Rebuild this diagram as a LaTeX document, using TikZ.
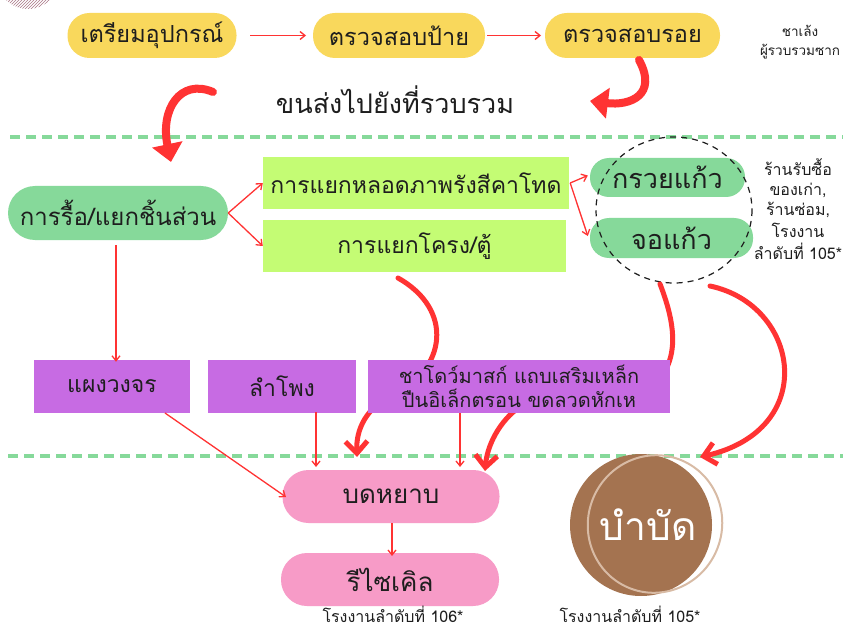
\documentclass[tikz,border=0pt]{standalone}
\usepackage{fontspec}
\newfontfamily\thai[Script=Thai]{Loma}
\usetikzlibrary{arrows.meta,patterns}
\definecolor{cyellow}{RGB}{249,216,92}
\definecolor{cgreen}{RGB}{134,217,154}
\definecolor{clime}{RGB}{196,252,116}
\definecolor{cpurple}{RGB}{199,107,227}
\definecolor{cpink}{RGB}{247,155,199}
\definecolor{cbrown}{RGB}{164,115,80}
\definecolor{ctan}{RGB}{216,187,165}
\definecolor{cred}{RGB}{255,51,51}
\definecolor{cmauve}{RGB}{170,120,135}
\definecolor{ctext}{RGB}{30,30,30}
\tikzset{
  tf/.style={font=\thai\fontsize{#1}{#1}\selectfont},
  pill/.style={inner sep=0pt, text=ctext, rounded corners=#1, align=center},
  ybox/.style={pill=22pt, fill=cyellow, minimum height=45pt, tf=23.5},
  gbox/.style={pill=27pt, fill=cgreen, minimum width=220pt, minimum height=54pt, tf=24},
  gsmall/.style={pill=19pt, fill=cgreen, minimum height=39pt, tf=27},
  lbox/.style={inner sep=0pt, fill=clime, text=ctext, minimum height=52pt, tf=23},
  pbox/.style={inner sep=0pt, fill=cpurple, text=ctext, minimum height=53pt, tf=23, align=center},
  kbox/.style={pill=26pt, fill=cpink, minimum width=217pt, minimum height=53pt, tf=26},
  thin/.style={draw=cred, line width=1.3pt, -{Straight Barb[length=5pt,width=8pt]}},
  thick/.style={draw=cred, line width=5pt, line cap=round, -{Straight Barb[length=12pt,width=22pt,line width=5pt]}},
  brush/.style={draw=cred, line width=8pt, line cap=round, -{Triangle[length=18pt,width=30pt]}},
  gdash/.style={draw=cgreen, line width=4pt, dash pattern=on 10pt off 6pt},
  note/.style={text=ctext, tf=13.5, align=center, inner sep=0pt},
}
\begin{document}
\begin{tikzpicture}[x=1pt,y=-1pt]
\useasboundingbox[fill=white] (0,0) rectangle (843,631);
% decoration top-left
\begin{scope}
\clip (0,0) rectangle (60,9);
\fill[pattern=north east lines, pattern color=cmauve] (28,-22) circle (31);
\end{scope}
% dashed separators
\coordinate (d1a) at (10,137); \coordinate (d1b) at (843,137);
\coordinate (d2a) at (8,456); \coordinate (d2b) at (843,456);
\draw[gdash] (d1a) -- (d1b);
\draw[gdash] (d2a) -- (d2b);

% top row
\node[ybox, minimum width=169pt] (a1) at (152,35.5) {เตรียมอุปกรณ์};
\node[ybox, minimum width=172pt] (a2) at (399,35.5) {ตรวจสอบป้าย};
\node[ybox, minimum width=175pt] (a3) at (632.5,35.5) {ตรวจสอบรอย};
\coordinate (a1r) at (250,35.5); \coordinate (a2l) at (306,35.5);
\coordinate (a2r) at (487,35.5); \coordinate (a3l) at (541,35.5);
\draw[thin] (a1r) -- (a2l);
\draw[thin] (a2r) -- (a3l);
\node[note] (n1) at (800,42) {ชาเล้ง\\[5pt]ผู้รวบรวมซาก};
\node[text=ctext, tf=27, inner sep=0pt] (t1) at (395,100) {ขนส่งไปยังที่รวบรวม};

% big curved arrows top
\coordinate (c1s) at (213,92);
\coordinate (c1e) at (171,162);
\draw[brush] (c1s) .. controls (180,78) and (160,110) .. (c1e);
\coordinate (c2s) at (639,60);
\coordinate (c2e) at (590,101);
\draw[brush] (c2s) .. controls (658,95) and (630,106) .. (c2e);

% second row
\node[gbox] (b1) at (118,213) {การรื้อ/แยกชิ้นส่วน};
\node[lbox, minimum width=306pt] (l1) at (416,183) {การแยกหลอดภาพรังสีคาโทด};
\node[lbox, minimum width=303pt] (l2) at (414.5,246) {การแยกโครง/ตู้};
\node[gsmall, minimum width=155pt] (g1) at (667.5,177.5) {กรวยแก้ว};
\node[gsmall, minimum width=163pt, minimum height=40pt] (g2) at (671.5,238) {จอแก้ว};
\coordinate (ringc) at (674,210);
\draw[ctext, line width=1.2pt, dash pattern=on 6pt off 5pt] (ringc) ellipse [x radius=78, y radius=73];
\node[note, tf=16] (n2) at (798,209) {ร้านรับซื้อ\\[4pt]ของเก่า,\\[4pt]ร้านซ่อม,\\[4pt]โรงงาน\\[4pt]ลำดับที่ 105*};
\draw[thin] (b1.east) -- (l1.west);
\draw[thin] (b1.east) -- (l2.west);
\draw[thin] ([xshift=1pt]l1.east) -- ([xshift=-2pt,yshift=2pt]g1.west);
\draw[thin] ([xshift=1pt]l1.east) -- ([xshift=-2pt,yshift=2pt]g2.west);

% thick arrows (drawn under boxes)
\coordinate (e1s) at (398,278);
\coordinate (e1e) at (357,457);
\draw[thick] (e1s) .. controls (455,310) and (445,370) .. (395,393) .. controls (365,408) and (356,430) .. (e1e);
\coordinate (e2s) at (660,284);
\coordinate (e2e) at (485,471);
\draw[thick] (e2s) .. controls (674,320) and (676,345) .. (668,365) .. controls (640,400) and (535,392) .. (512,413) .. controls (496,428) and (487,448) .. (e2e);
\coordinate (e3s) at (710,286);
\coordinate (e3e) at (700,457);
\draw[thick] (e3s) .. controls (800,305) and (820,430) .. (e3e);

% purple row
\node[pbox, minimum width=156pt] (p1) at (112,386.5) {แผงวงจร};
\node[pbox, minimum width=148pt] (p2) at (282,386) {ลำโพง};
\node[pbox, minimum width=302pt, tf=20] (p3) at (519,386.5) {ชาโดว์มาสก์ แถบเสริมเหล็ก\\[4pt]ปืนอิเล็กตรอน ขดลวดหักเห};
\coordinate (b1d) at (116,245);
\draw[thin] (b1d) -- ([xshift=4pt,yshift=-2pt]p1.north);

% bottom
\node[kbox] (k1) at (391,496.5) {บดหยาบ};
\node[kbox, minimum width=218pt] (k2) at (390,579.5) {รีไซเคิล};
\coordinate (p1d) at (165,413); \coordinate (k1l) at (286,497);
\draw[thin] (p1d) -- (k1l);
\coordinate (p2d) at (316,412); \coordinate (k1t1) at (316,467);
\draw[thin] (p2d) -- (k1t1);
\coordinate (p3d) at (460,413); \coordinate (k1t2) at (460,467);
\draw[thin] (p3d) -- (k1t2);
\coordinate (k1d) at (392,523); \coordinate (k2t) at (392,556);
\draw[thin] (k1d) -- (k2t);
\node[note, tf=16] (n3) at (393,614) {โรงงานลำดับที่ 106*};

\node[circle, fill=cbrown, minimum size=142pt, inner sep=0pt] (br) at (641,525) {};
\draw[ctan, line width=2pt, rotate around={-20:(655,524)}] (655,524) ellipse [x radius=67, y radius=69];
\node[text=white, tf=39, inner sep=0pt] (bt) at (648,525) {บำบัด};
\node[note, tf=16] (n4) at (630,614) {โรงงานลำดับที่ 105*};
\end{tikzpicture}
\end{document}
